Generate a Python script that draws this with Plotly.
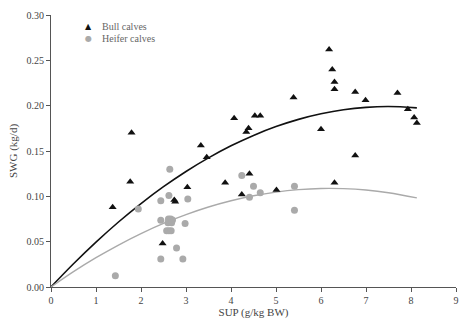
import plotly.graph_objects as go

# Bull calves (triangles)
bull_x = [1.37, 1.76, 1.79, 2.48, 2.74, 2.76, 3.03, 3.33, 3.46, 3.87, 4.07, 4.24, 4.34, 4.39, 4.41,
          4.53, 4.65, 5.01, 5.39, 6.00, 6.18, 6.25, 6.30, 6.30, 6.30, 6.76, 6.76, 6.99, 7.70, 7.93, 8.07, 8.13]
bull_y = [0.088, 0.116, 0.170, 0.048, 0.096, 0.094, 0.110, 0.156, 0.143, 0.115, 0.186, 0.102, 0.171, 0.175, 0.125,
          0.189, 0.189, 0.107, 0.209, 0.174, 0.262, 0.240, 0.226, 0.218, 0.115, 0.215, 0.145, 0.206, 0.214, 0.196, 0.187, 0.181]

# Heifer calves (circles)
heifer_x = [1.43, 1.94, 2.44, 2.44, 2.44, 2.57, 2.62, 2.67, 2.61, 2.66, 2.70, 2.60, 2.68, 2.62, 2.64,
            2.79, 2.93, 2.98, 3.04, 4.24, 4.41, 4.50, 4.65, 5.41, 5.41]
heifer_y = [0.0125, 0.086, 0.095, 0.0735, 0.031, 0.062, 0.062, 0.062, 0.075, 0.075, 0.074, 0.071, 0.071, 0.101, 0.130,
            0.043, 0.031, 0.070, 0.097, 0.123, 0.099, 0.111, 0.104, 0.111, 0.0846]

# Fitted curves
bull_fit_x = [0, 0.5, 1, 1.5, 2, 2.5, 3, 3.5, 4, 4.5, 5, 5.5, 6, 6.5, 7, 7.5, 8.13]
bull_fit_y = [0, 0.0256, 0.0495, 0.0717, 0.092, 0.1106, 0.1274, 0.1424, 0.1557, 0.1672, 0.1769, 0.1849, 0.1910,
              0.1955, 0.1981, 0.1990, 0.1976]
heifer_fit_x = [0, 0.5, 1, 1.5, 2, 2.5, 3, 3.5, 4, 4.5, 5, 5.5, 6, 6.5, 7, 7.5, 8.13]
heifer_fit_y = [0, 0.0169, 0.0323, 0.0463, 0.0589, 0.0701, 0.0798, 0.0882, 0.0951, 0.1006, 0.1047, 0.1074, 0.1087,
                0.1085, 0.1070, 0.1040, 0.0983]

x_ticks = [0, 1, 2, 3, 4, 5, 6, 7, 8, 9]
y_ticks = [0.00, 0.05, 0.10, 0.15, 0.20, 0.25, 0.30]
legend_labels = ["Bull calves", "Heifer calves"]

FONT = "Liberation Serif, Times New Roman, serif"

fig = go.Figure()
fig.add_trace(go.Scatter(x=bull_fit_x, y=bull_fit_y, mode="lines", line=dict(color="#111111", width=1.6, shape="spline"),
                         showlegend=False, hoverinfo="skip"))
fig.add_trace(go.Scatter(x=heifer_fit_x, y=heifer_fit_y, mode="lines", line=dict(color="#aaaaaa", width=1.4, shape="spline"),
                         showlegend=False, hoverinfo="skip"))
fig.add_trace(go.Scatter(x=bull_x, y=bull_y, mode="markers", name=legend_labels[0], showlegend=False,
                         marker=dict(symbol="triangle-up", size=7, color="#111111")))
fig.add_trace(go.Scatter(x=heifer_x, y=heifer_y, mode="markers", name=legend_labels[1], showlegend=False,
                         marker=dict(symbol="circle", size=7, color="#aaaaaa")))

# Legend drawn as text (symbol glyph + label)
legend_rows = [("▲", "#111111", legend_labels[0], 0.956), ("●", "#aaaaaa", legend_labels[1], 0.915)]
for glyph, col, label, yy in legend_rows:
    fig.add_annotation(xref="paper", yref="paper", x=0.0914, y=yy, text=glyph, showarrow=False,
                       xanchor="center", yanchor="middle",
                       font=dict(family="DejaVu Sans", size=8, color=col))
    fig.add_annotation(xref="paper", yref="paper", x=0.121, y=yy, text=label, showarrow=False,
                       xanchor="left", yanchor="middle",
                       font=dict(family=FONT, size=10, color="#666666"))

axis_common = dict(showline=True, linecolor="#555555", linewidth=1, ticks="outside", ticklen=4,
                   tickcolor="#555555", showgrid=False, zeroline=False, automargin=False,
                   tickfont=dict(family=FONT, size=10, color="#444444"))

fig.update_layout(
    width=475, height=322,
    margin=dict(l=51, r=19, t=15, b=35),
    paper_bgcolor="white", plot_bgcolor="white",
    font=dict(family=FONT, size=10, color="#444444"),
    showlegend=False,
    xaxis=dict(range=[0, 9], tickvals=x_ticks, ticktext=[str(v) for v in x_ticks],
               title=dict(text="SUP (g/kg BW)", font=dict(family=FONT, size=11, color="#444444"), standoff=3),
               **axis_common),
    yaxis=dict(range=[0, 0.30], tickvals=y_ticks, ticktext=[f"{v:.2f}" for v in y_ticks],
               title=dict(text="SWG (kg/d)", font=dict(family=FONT, size=11, color="#444444"), standoff=6),
               **axis_common),
)

fig.write_html("out.html")
